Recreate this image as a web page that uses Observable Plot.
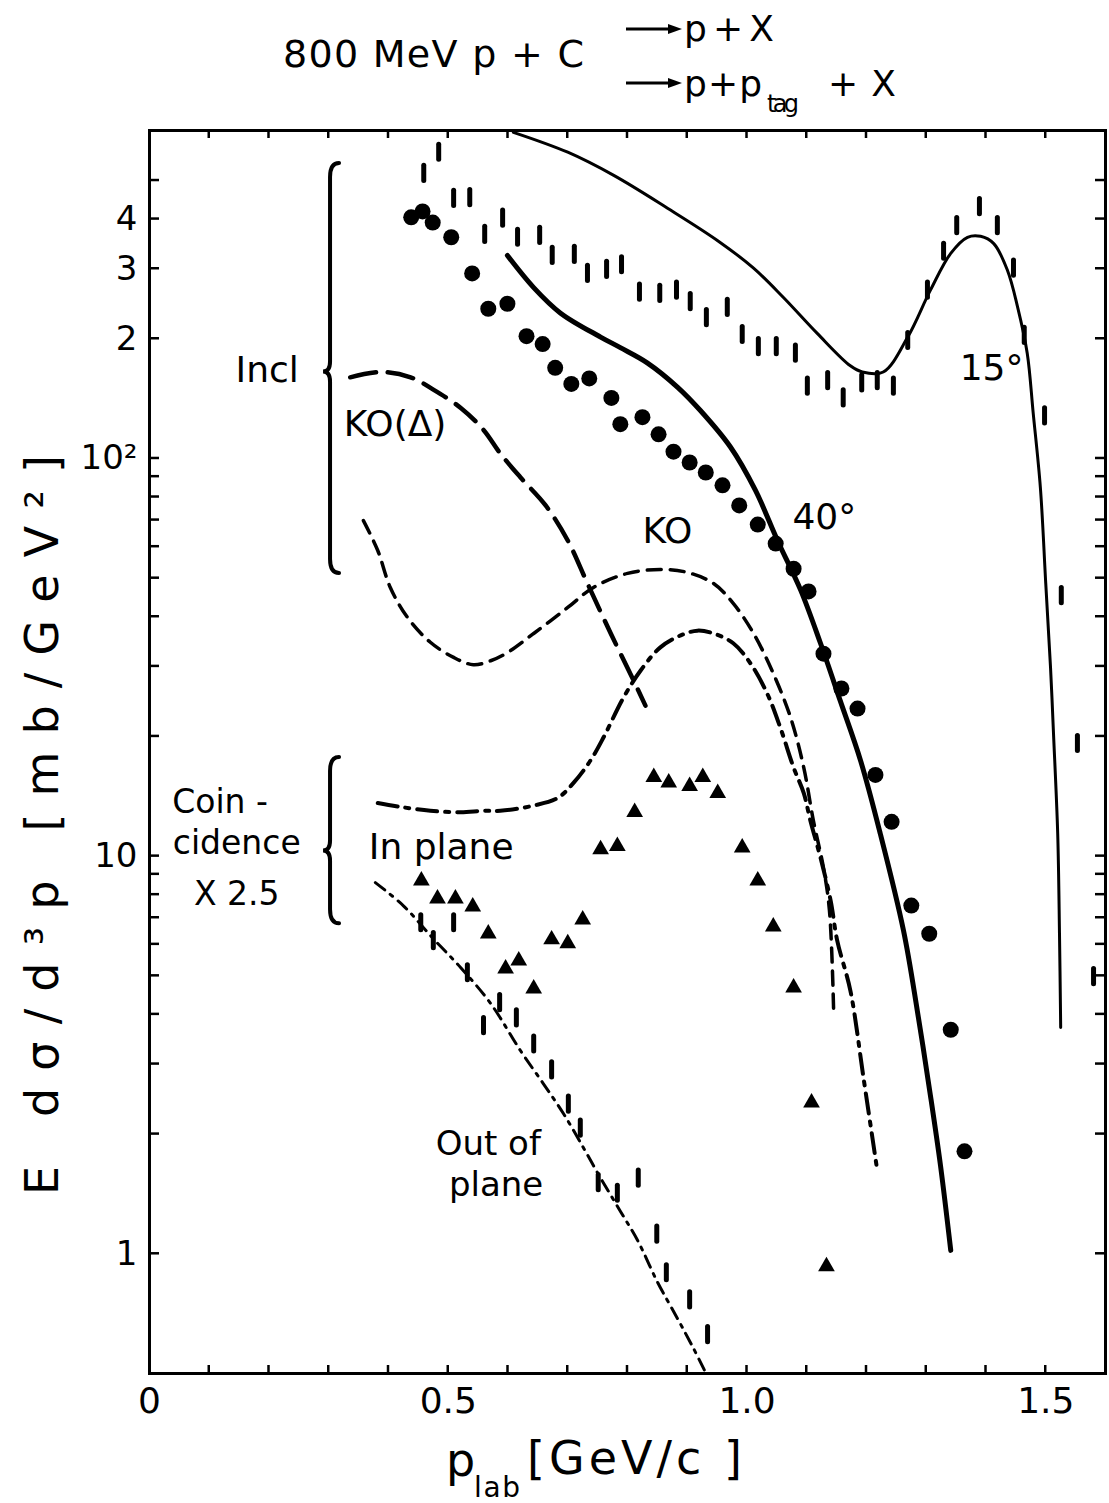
<!DOCTYPE html>
<html><head><meta charset="utf-8">
<script src="https://cdn.jsdelivr.net/npm/d3@7"></script>
<script src="https://cdn.jsdelivr.net/npm/@observablehq/plot@0.6"></script>
<style>
body{margin:0;background:#fff;}
#wrap{position:relative;width:1109px;height:1503px;background:#fff;}
#wrap svg{position:absolute;left:0;top:0;}
</style></head><body><div id="wrap"></div>
<script>
const FONT = "'DejaVu Sans', 'Liberation Sans', sans-serif";

// ---- axes ----
const xDomain = [0, 1.6];
const yDomain = [0.5, 668];
const xMinorTicks = [0.1,0.2,0.3,0.4,0.5,0.6,0.7,0.8,0.9,1.0,1.1,1.2,1.3,1.4,1.5];
const xTickValues = [0, 0.5, 1.0, 1.5];
const xTickLabels = ["0", "0.5", "1.0", "1.5"];
const yMinorTicks = [1,2,3,4,5,6,7,8,9,10,20,30,40,50,60,70,80,90,100,200,300,400,500];
const yTickValues = [1, 10, 100, 200, 300, 400];
const yTickLabels = ["1", "10", "10²", "2", "3", "4"];

// ---- data: 15° inclusive (error-bar symbols) ----
const incl15Data = [
  [0.459,521],[0.484,589],[0.509,451],[0.536,453],[0.561,366],[0.591,402],[0.616,360],
  [0.653,364],[0.674,324],[0.711,326],[0.733,292],[0.765,299],[0.790,307],[0.820,262],
  [0.854,260],[0.882,265],[0.905,248],[0.932,226],[0.967,240],[0.992,205],[1.019,191],
  [1.049,191],[1.081,184],[1.101,152],[1.135,157],[1.161,142],[1.192,155],[1.218,157],
  [1.245,152],[1.269,198],[1.302,265],[1.329,332],[1.351,385],[1.389,430],[1.419,385],
  [1.446,301],[1.464,204],[1.498,128],[1.526,45.2],[1.553,19.2],[1.580,4.98]
];
// ---- data: 40° inclusive (filled circles) ----
const incl40Data = [
  [0.438,404],[0.457,418],[0.474,392],[0.505,360],[0.540,292],[0.567,238],[0.599,245],
  [0.631,203],[0.658,194],[0.679,169],[0.706,154],[0.736,159],[0.773,142],[0.788,122],
  [0.825,127],[0.852,115],[0.877,104],[0.904,97.7],[0.931,92.2],[0.959,85.6],[0.987,76.2],
  [1.018,68.2],[1.048,61.1],[1.078,52.8],[1.103,46.3],[1.128,32.3],[1.158,26.4],[1.185,23.5],
  [1.215,16.0],[1.242,12.2],[1.275,7.51],[1.305,6.38],[1.341,3.66],[1.364,1.81]
];
// ---- data: coincidence, in plane (triangles) ----
const inPlaneData = [
  [0.455,8.68],[0.482,7.82],[0.512,7.82],[0.541,7.46],[0.567,6.38],[0.596,5.21],[0.618,5.46],
  [0.643,4.64],[0.673,6.17],[0.700,6.03],[0.725,6.92],[0.755,10.4],[0.783,10.6],[0.812,12.9],
  [0.844,15.8],[0.869,15.3],[0.904,15.0],[0.926,15.8],[0.951,14.4],[0.992,10.5],[1.018,8.68],
  [1.044,6.65],[1.078,4.67],[1.108,2.40],[1.133,0.93]
];
// ---- data: coincidence, out of plane (error-bar symbols) ----
const outPlaneData = [
  [0.454,6.80],[0.475,6.13],[0.509,6.80],[0.532,5.09],[0.559,3.75],[0.586,4.28],[0.614,3.92],
  [0.643,3.37],[0.673,2.90],[0.701,2.38],[0.721,2.07],[0.751,1.51],[0.783,1.42],[0.818,1.55],
  [0.849,1.12],[0.865,0.896],[0.904,0.766],[0.934,0.626]
];
const barFactor = 1.045;

// ---- calculated curves ----
const curve15 = [
  [0.609,661],[0.700,589],[0.777,515],[0.867,426],[0.951,353],[1.011,301],[1.061,254],
  [1.118,206],[1.173,171],[1.193,165],[1.228,165],[1.269,202],[1.307,265],[1.341,328],
  [1.369,360],[1.391,362],[1.413,347],[1.436,297],[1.453,240],[1.469,184],[1.479,130],
  [1.491,84.5],[1.500,48.5],[1.508,29.8],[1.513,20.3],[1.520,11.4],[1.523,6.38],[1.525,3.71]
];
const curve40 = [
  [0.599,324],[0.643,269],[0.688,232],[0.755,202],[0.788,190],[0.833,174],[0.884,151],
  [0.922,132],[0.972,107],[1.014,83.2],[1.051,62.2],[1.090,46.6],[1.123,34.3],[1.156,24.6],
  [1.190,17.4],[1.223,11.4],[1.262,6.49],[1.285,4.09],[1.307,2.50],[1.324,1.66],[1.341,1.02]
];
const curveKODelta = [
  [0.336,160],[0.387,165],[0.437,160],[0.475,149],[0.521,134],[0.559,118],[0.587,103],
  [0.621,89.6],[0.663,76.2],[0.700,62.2],[0.733,48.5],[0.772,36.3],[0.810,27.7],[0.830,23.9]
];
const curveKO = [
  [0.358,69.8],[0.382,58.7],[0.403,47.4],[0.432,39.8],[0.470,34.5],[0.509,31.6],[0.542,30.3],
  [0.571,31.0],[0.599,32.5],[0.643,36.3],[0.700,42.2],[0.743,47.4],[0.800,51.4],[0.855,52.6],
  [0.900,51.7],[0.944,48.5],[0.977,43.2],[1.011,36.3],[1.044,28.8],[1.073,22.3],[1.095,16.7],
  [1.111,12.3],[1.128,9.35],[1.138,7.30],[1.145,4.08]
];
const curveInPlane = [
  [0.382,13.6],[0.420,13.3],[0.470,13.0],[0.521,12.9],[0.559,13.0],[0.587,13.0],[0.643,13.4],
  [0.683,14.0],[0.710,15.3],[0.738,17.4],[0.760,19.9],[0.793,25.0],[0.822,29.3],[0.855,33.5],
  [0.889,35.9],[0.917,36.9],[0.944,36.3],[0.977,34.3],[1.006,30.5],[1.034,25.6],[1.056,21.0],
  [1.078,16.7],[1.095,14.4],[1.106,12.3],[1.123,9.91],[1.140,7.73],[1.151,6.13],[1.173,4.59],
  [1.195,2.77],[1.218,1.62]
];
const curveOutPlane = [
  [0.378,8.58],[0.425,7.50],[0.475,6.20],[0.521,5.24],[0.571,4.26],[0.621,3.24],[0.659,2.68],
  [0.693,2.25],[0.726,1.85],[0.755,1.55],[0.788,1.28],[0.817,1.08],[0.850,0.850],[0.884,0.686],
  [0.910,0.580],[0.931,0.502]
];

// ---- annotations (data coordinates) ----
const labelsLeft = [
  {x:0.144, y:166, text:"Incl"},
  {x:0.325, y:122, text:"KO(Δ)"},
  {x:0.825, y:65.5, text:"KO"},
  {x:1.076, y:71.1, text:"40°"},
  {x:1.356, y:168, text:"15°"},
  {x:0.367, y:10.5, text:"In plane"}
];
const labelsCoinc = [
  {x:0.118, y:13.63, text:"Coin -"},
  {x:0.146, y:10.75, text:"cidence"},
  {x:0.146, y:8.0, text:"X 2.5"}
];
const labelsOut = [
  {x:0.567, y:1.89, text:"Out of"},
  {x:0.580, y:1.49, text:"plane"}
];
const braces = [
  {x:0.303, top:552, tip:165, bottom:51.4},
  {x:0.303, top:17.7, tip:10.3, bottom:6.76}
];

function inwardTicks(index, scales, values, dims) {
  const {width, height, marginTop, marginRight, marginBottom, marginLeft} = dims;
  const x0 = marginLeft, x1 = width - marginRight, y0 = marginTop, y1 = height - marginBottom;
  const g = d3.create("svg:g").attr("stroke", "#000").attr("stroke-width", 2.5);
  for (const t of xMinorTicks) {
    const px = scales.x(t);
    g.append("line").attr("x1", px).attr("x2", px).attr("y1", y1).attr("y2", y1 - 8);
    g.append("line").attr("x1", px).attr("x2", px).attr("y1", y0).attr("y2", y0 + 8);
  }
  for (const t of yMinorTicks) {
    const py = scales.y(t);
    g.append("line").attr("x1", x0).attr("x2", x0 + 10).attr("y1", py).attr("y2", py);
    g.append("line").attr("x1", x1).attr("x2", x1 - 10).attr("y1", py).attr("y2", py);
  }
  return g.node();
}
function braceMark(index, scales) {
  const g = d3.create("svg:g").attr("fill", "none").attr("stroke", "#000")
    .attr("stroke-width", 4).attr("stroke-linecap", "round");
  for (const b of braces) {
    const sx = scales.x(b.x), t = scales.y(b.top), m = scales.y(b.tip), bt = scales.y(b.bottom);
    g.append("path").attr("d",
      `M${sx+9},${t} Q${sx},${t} ${sx},${t+14} L${sx},${m-10} Q${sx},${m} ${sx-7},${m} ` +
      `Q${sx},${m} ${sx},${m+10} L${sx},${bt-14} Q${sx},${bt} ${sx+9},${bt}`);
  }
  return g.node();
}

const X = d => d[0], Y = d => d[1];
const plot = Plot.plot({
  width: 1109, height: 1503,
  marginTop: 130, marginBottom: 130, marginLeft: 149, marginRight: 4,
  x: {domain: xDomain},
  y: {type: "log", domain: yDomain, axis: null},
  style: {fontFamily: FONT, background: "#fff", color: "#000"},
  marks: [
    Plot.frame({stroke: "#000", strokeWidth: 3}),
    inwardTicks,
    Plot.axisX({ticks: xTickValues, tickSize: 0, tickPadding: 14, fontSize: 36, label: null,
      tickFormat: v => xTickLabels[xTickValues.indexOf(v)]}),
    Plot.text(yTickValues, {y: d => d, text: (d, i) => yTickLabels[i], frameAnchor: "left",
      textAnchor: "end", dx: -12, fontSize: 34, fill: "#000"}),
    Plot.line(curve15, {x: X, y: Y, curve: "catmull-rom", stroke: "#000", strokeWidth: 3}),
    Plot.line(curve40, {x: X, y: Y, curve: "catmull-rom", stroke: "#000", strokeWidth: 5}),
    Plot.line(curveKODelta, {x: X, y: Y, curve: "catmull-rom", stroke: "#000", strokeWidth: 4.5, strokeDasharray: "26,12"}),
    Plot.line(curveKO, {x: X, y: Y, curve: "catmull-rom", stroke: "#000", strokeWidth: 3.5, strokeDasharray: "14,9"}),
    Plot.line(curveInPlane, {x: X, y: Y, curve: "catmull-rom", stroke: "#000", strokeWidth: 4, strokeDasharray: "20,8,4,8"}),
    Plot.line(curveOutPlane, {x: X, y: Y, curve: "catmull-rom", stroke: "#000", strokeWidth: 3, strokeDasharray: "12,7,3,7"}),
    Plot.ruleX(incl15Data, {x: X, y1: d => d[1] / barFactor, y2: d => d[1] * barFactor, stroke: "#000", strokeWidth: 5, strokeLinecap: "round"}),
    Plot.ruleX(outPlaneData, {x: X, y1: d => d[1] / barFactor, y2: d => d[1] * barFactor, stroke: "#000", strokeWidth: 5, strokeLinecap: "round"}),
    Plot.dot(incl40Data, {x: X, y: Y, r: 8, fill: "#000", stroke: "none"}),
    Plot.dot(inPlaneData, {x: X, y: Y, r: 6.2, symbol: "triangle", fill: "#000", stroke: "none"}),
    Plot.text(labelsLeft, {x: "x", y: "y", text: "text", textAnchor: "start", fontSize: 36, fill: "#000"}),
    Plot.text(labelsCoinc, {x: "x", y: "y", text: "text", textAnchor: "middle", fontSize: 33, fill: "#000"}),
    Plot.text(labelsOut, {x: "x", y: "y", text: "text", textAnchor: "middle", fontSize: 34, fill: "#000"}),
    braceMark
  ]
});
const wrap = document.getElementById("wrap");
wrap.appendChild(plot);

// ---- overlay: title and axis titles ----
const ov = d3.select(wrap).append("svg").attr("width", 1109).attr("height", 1503)
  .style("font-family", FONT).attr("fill", "#000");
ov.append("text").attr("x", 283).attr("y", 67).attr("font-size", 38)
  .attr("textLength", 301).attr("lengthAdjust", "spacing").text("800 MeV p + C");
function arrow(y) {
  ov.append("line").attr("x1", 626).attr("x2", 672).attr("y1", y).attr("y2", y)
    .attr("stroke", "#000").attr("stroke-width", 3);
  ov.append("path").attr("d", `M668,${y-5} L682,${y} L668,${y+5} Z`).attr("fill", "#000");
}
arrow(29);
ov.append("text").attr("x", 684).attr("y", 41).attr("font-size", 36)
  .attr("textLength", 90).attr("lengthAdjust", "spacing").text("p+X");
arrow(83);
ov.append("text").attr("x", 684).attr("y", 96).attr("font-size", 36)
  .attr("textLength", 78).attr("lengthAdjust", "spacing").text("p+p");
ov.append("text").attr("x", 767).attr("y", 112).attr("font-size", 24)
  .attr("textLength", 32).attr("lengthAdjust", "spacing").text("tag");
ov.append("text").attr("x", 828).attr("y", 96).attr("font-size", 36)
  .attr("textLength", 68).attr("lengthAdjust", "spacing").text("+X");

// y-axis title (rotated)
ov.append("text").attr("transform", "translate(58,825) rotate(-90)").attr("text-anchor", "middle")
  .attr("font-size", 46).attr("textLength", 740).attr("lengthAdjust", "spacing")
  .text("E dσ/d³p [mb/GeV²]");
// x-axis title
ov.append("text").attr("x", 446).attr("y", 1476).attr("font-size", 46).text("p");
ov.append("text").attr("x", 474).attr("y", 1497).attr("font-size", 28)
  .attr("textLength", 46).attr("lengthAdjust", "spacing").text("lab");
ov.append("text").attr("x", 527).attr("y", 1474).attr("font-size", 46)
  .attr("textLength", 215).attr("lengthAdjust", "spacing").text("[GeV/c ]");
</script></body></html>
